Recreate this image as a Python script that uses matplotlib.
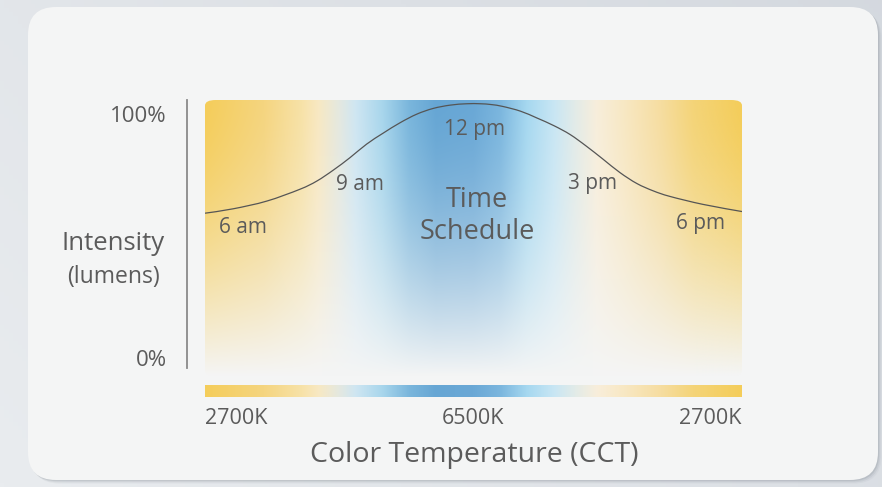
import numpy as np
import matplotlib
matplotlib.use("Agg")
import matplotlib.pyplot as plt
from matplotlib.patches import FancyBboxPatch, PathPatch
from matplotlib.path import Path
from matplotlib.colors import to_rgb

W, H = 882, 487

# ---- data ----
hours = [6.00, 6.63, 7.38, 8.12, 8.50, 8.87, 9.24, 9.61, 9.98, 10.36, 10.73,
         11.10, 11.48, 11.85, 12.15, 12.40, 12.66, 13.05, 13.42, 13.80, 14.16,
         14.52, 14.89, 15.27, 15.65, 16.02, 16.39, 17.13, 18.00]
intensity = [59.2, 60.8, 63.6, 67.9, 70.9, 74.9, 79.4, 84.3, 88.3, 92.1, 95.2,
             97.3, 98.5, 99.0, 99.0, 98.7, 98.0, 96.3, 93.8, 91.0, 87.8,
             83.6, 78.9, 74.0, 70.0, 67.3, 65.3, 62.4, 59.8]
time_labels = ["6 am", "9 am", "12 pm", "3 pm", "6 pm"]
cct_labels = ["2700K", "6500K", "2700K"]
y_labels = ["100%", "0%"]

# colour stops of the CCT gradient (fraction across, colour)
stop_pos = [0.0, 0.11, 0.18, 0.21, 0.25, 0.28, 0.33, 0.38, 0.43, 0.50,
            0.55, 0.60, 0.65, 0.69, 0.73, 0.78, 0.85, 0.91, 1.0]
stop_col = ["#f4cd5a", "#f5d580", "#f7e2a8", "#f8e8c2", "#e4e8e0", "#cfe6f2",
            "#a8d6ec", "#7ab6dc", "#66a6d4", "#6aa8d6", "#7bb6de", "#a6d8f0",
            "#c8e6f4", "#e2ebe8", "#f8eedb", "#f8e8c4", "#f6dda0", "#f4d478",
            "#f4cd5a"]

TXT = "#5b5b5b"
CARD = "#f4f5f5"
FONT = "Open Sans"

plt.rcParams['font.family'] = [FONT, 'DejaVu Sans']

fig = plt.figure(figsize=(W / 100, H / 100), dpi=100)

def fx(x):
    return x / W

def fy(y):
    return 1 - y / H

# background axes in pixel coordinates
bg = fig.add_axes([0, 0, 1, 1])
bg.set_xlim(0, W)
bg.set_ylim(H, 0)
bg.axis("off")

# outer backdrop gradient
gx = np.linspace(0, 1, 200)
gy = np.linspace(0, 1, 120)
GX, GY = np.meshgrid(gx, gy)
c_light = np.array(to_rgb("#e9ecef"))
c_dark = np.array(to_rgb("#cfd4db"))
t = np.clip(0.55 * GX + 0.25 * (1 - GY), 0, 1)[..., None]
back = c_light * (1 - t) + c_dark * t
bg.imshow(back, extent=(0, W, H, 0), aspect="auto", zorder=0)

# card shadow
for off, a in [(6, 0.06), (4, 0.10), (2, 0.16)]:
    bg.add_patch(FancyBboxPatch((28 + off * 0.6, 7 + off * 0.6), 850, 473,
                                boxstyle="round,pad=0,rounding_size=28",
                                fc="#6f7680", ec="none", alpha=a, zorder=1))
# card
bg.add_patch(FancyBboxPatch((28, 7), 850, 473,
                            boxstyle="round,pad=0,rounding_size=28",
                            fc=CARD, ec="none", zorder=2))

# y axis line
bg.plot([187, 187], [100, 368], color="#8a8a8a", lw=1.3, zorder=3)

# ---- main gradient panel ----
px0, px1, py0, py1 = 205, 742, 100, 376
ytop = 100 * (py1 - py0) / 275
ax = fig.add_axes([fx(px0), fy(py1), (px1 - px0) / W, (py1 - py0) / H])
ax.set_xlim(6, 18)
ax.set_ylim(0, ytop)
ax.axis("off")

stops_rgb = np.array([to_rgb(c) for c in stop_col])
nx, ny = 600, 300
u = np.linspace(0, 1, nx)
top = np.stack([np.interp(u, stop_pos, stops_rgb[:, k]) for k in range(3)], axis=1)
v = np.linspace(0, 1, ny)[:, None, None]
alpha = np.clip(1 - v ** 1.6, 0, 1)
card_rgb = np.array(to_rgb(CARD))
img = card_rgb * (1 - alpha) + top[None, :, :] * alpha
im = ax.imshow(img, extent=(6, 18, 0, ytop), aspect="auto",
               origin="upper", interpolation="bilinear")
clip = FancyBboxPatch((0, 0), 1, 1, boxstyle="round,pad=0,rounding_size=0.02",
                      transform=ax.transAxes, fc="none", ec="none")
im.set_clip_path(clip)

# smooth curve through the read points (Catmull-Rom drawn as cubic Beziers)
pts = ax.transData.transform(np.column_stack([hours, intensity]))
verts = [pts[0]]
codes = [Path.MOVETO]
for i in range(len(pts) - 1):
    p0 = pts[i - 1] if i > 0 else pts[i]
    p1 = pts[i]
    p2 = pts[i + 1]
    p3 = pts[i + 2] if i + 2 < len(pts) else pts[i + 1]
    c1 = p1 + (p2 - p0) / 6.0
    c2 = p2 - (p3 - p1) / 6.0
    verts += [c1, c2, p2]
    codes += [Path.CURVE4] * 3
path = Path(ax.transData.inverted().transform(np.array(verts)), codes)
ax.add_patch(PathPatch(path, fc="none", ec="#555555", lw=0.9))

# colour bar
cb = fig.add_axes([fx(205), fy(397), 537 / W, 12 / H])
cb.imshow(top[None, :, :], extent=(0, 1, 0, 1), aspect="auto")
cb.axis("off")

# ---- texts ----
fig.text(fx(167), fy(116), y_labels[0], ha="right", va="center", color=TXT, fontsize=16)
fig.text(fx(167), fy(360), y_labels[1], ha="right", va="center", color=TXT, fontsize=16)
fig.text(fx(113), fy(244), "Intensity", ha="center", va="center", color=TXT, fontsize=18.5)
fig.text(fx(113), fy(277), "(lumens)", ha="center", va="center", color=TXT, fontsize=16.5)

tl_pos = [(243, 227), (360, 184), (474, 129), (592, 184), (700, 223)]
for lab, (x, y) in zip(time_labels, tl_pos):
    fig.text(fx(x), fy(y), lab, ha="center", va="center", color=TXT, fontsize=15)

fig.text(fx(477), fy(200), "Time", ha="center", va="center", color=TXT, fontsize=19.5)
fig.text(fx(477), fy(232), "Schedule", ha="center", va="center", color=TXT, fontsize=19.5)

fig.text(fx(205), fy(418), cct_labels[0], ha="left", va="center", color=TXT, fontsize=15.5)
fig.text(fx(473), fy(418), cct_labels[1], ha="center", va="center", color=TXT, fontsize=15.5)
fig.text(fx(742), fy(418), cct_labels[2], ha="right", va="center", color=TXT, fontsize=15.5)
fig.text(fx(474), fy(455), "Color Temperature (CCT)", ha="center", va="center",
         color=TXT, fontsize=20.5)

fig.savefig("out.png", dpi=100)
